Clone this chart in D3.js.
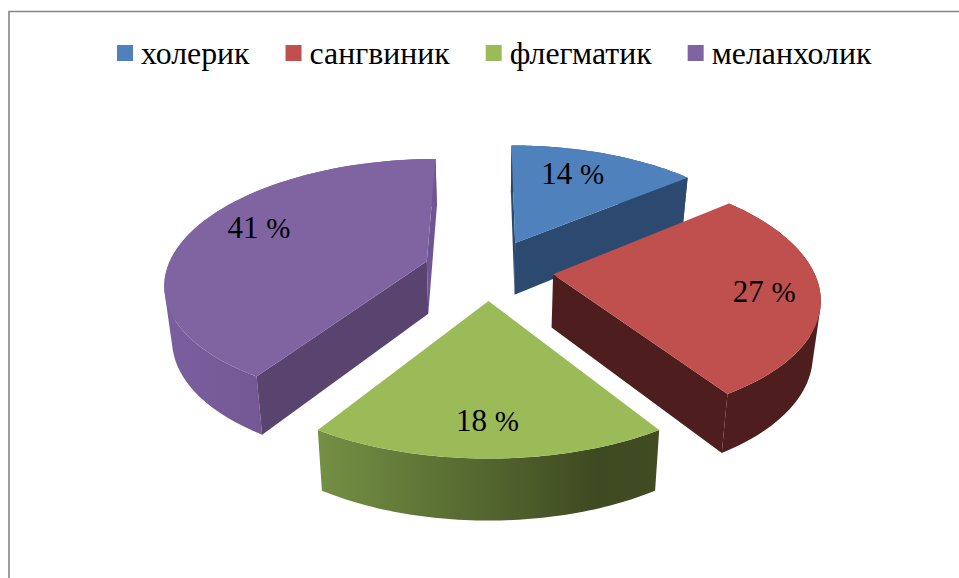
<!DOCTYPE html>
<html><head><meta charset="utf-8">
<style>html,body{margin:0;padding:0;background:#fff}svg{display:block}text{font-family:"Liberation Serif",serif;fill:#000}</style>
<script src="https://cdn.jsdelivr.net/npm/d3@7/dist/d3.min.js"></script>
</head><body>
<script>
const categories = ["холерик", "сангвиник", "флегматик", "меланхолик"];
const values = [14, 27, 18, 41];
const topColors = ["#4f81bd", "#c0504d", "#9bbb59", "#8064a2"];
const wallColors = ["#2c4a6f", "#4e1e1e", "#3f4a22", "#59436f"];
const sliverColors = ["#2c4a6f", "#4e1e1e", "#3f4a22", "#705595"];
const outerStops = [
  [["0", "#2c4a6f"], ["1", "#2c4a6f"]],
  [["0", "#4e1e1e"], ["1", "#4e1e1e"]],
  [["0", "#749044"], ["0.82", "#3e4a21"], ["1", "#414c23"]],
  [["0", "#7b5e9e"], ["1", "#674d85"]]
];
const labelNudge = [[-12, 0], [12, 3], [-1, 7], [9, -9]];

const W = 959, H = 578;
const vx = 488.5, vy = 269.5, A = 260, B = 121, p = 0.16, px = 0.168, explode = 0.25, labelR = 0.75;
const svg = d3.select("body").append("svg").attr("width", W).attr("height", H);
const defs = svg.append("defs");

// border
svg.append("path").attr("d", d3.line()([[9, H], [9, 11.5], [W, 11.5]]))
  .attr("fill", "none").attr("stroke", "#868686").attr("stroke-width", 1.6);

const pie = d3.pie().sort(null).value(d => d);
const arcs = pie(values);
const fmt = d3.line();

function ground(a, mid, r) {
  return [explode * Math.sin(mid) + r * Math.sin(a), explode * Math.cos(mid) + r * Math.cos(a)];
}
function top3(a, mid, r) {
  const [X, Z] = ground(a, mid, r), w = 1 + p * Z;
  return [vx + A * X / (1 + px * Z), vy - B * Z / w];
}
function bot3(a, mid, r) {
  const [X, Z] = ground(a, mid, r), w = 1 + p * Z;
  return [vx + 0.976 * A * X / (1 + px * Z), vy - B * Z / w + 53 * Math.pow(w, -0.7)];
}
// shoelace area with screen y running down: positive means clockwise on screen
function area(q) { return -d3.polygonArea(q); }

const order = [0, 3, 1, 2];
order.forEach(i => {
  const d = arcs[i], mid = (d.startAngle + d.endAngle) / 2;
  const ts = d3.range(0, 61).map(k => d.startAngle + (d.endAngle - d.startAngle) * k / 60);
  const tArc = ts.map(a => top3(a, mid, 1));
  const bArc = ts.map(a => bot3(a, mid, 1));
  const g = svg.append("g");

  const xs = tArc.map(q => q[0]);
  const gid = "outer" + i;
  const lg = defs.append("linearGradient").attr("id", gid).attr("gradientUnits", "userSpaceOnUse")
    .attr("x1", d3.min(xs)).attr("x2", d3.max(xs)).attr("y1", 0).attr("y2", 0);
  outerStops[i].forEach(s => lg.append("stop").attr("offset", s[0]).attr("stop-color", s[1]));

  // outer wall: one path of consistently wound quads, so folds do not cancel out
  const quads = d3.range(0, 60).map(k => {
    const q = [tArc[k], tArc[k + 1], bArc[k + 1], bArc[k]];
    return fmt(area(q) >= 0 ? q : q.slice().reverse()) + "Z";
  }).join("");
  g.append("path").attr("d", quads).attr("fill", `url(#${gid})`);

  // radial walls (front-facing only)
  const at = top3(0, mid, 0), ab = bot3(0, mid, 0);
  const startQ = [at, tArc[0], bArc[0], ab];
  const endQ = [at, tArc[60], bArc[60], ab];
  if (area(startQ) < 0) g.append("path").attr("d", fmt(startQ) + "Z").attr("fill", wallColors[i]);
  if (area(endQ) > 0) g.append("path").attr("d", fmt(endQ) + "Z").attr("fill", i === 3 ? sliverColors[i] : wallColors[i]);

  // top face
  g.append("path").attr("d", fmt([at].concat(tArc)) + "Z").attr("fill", topColors[i]);
});

// percent labels
arcs.forEach((d, i) => {
  const mid = (d.startAngle + d.endAngle) / 2;
  const q = top3(mid, mid, labelR);
  const t = svg.append("text").attr("x", q[0] + labelNudge[i][0]).attr("y", q[1] + labelNudge[i][1] + 10)
    .attr("text-anchor", "middle").attr("font-size", 31).text(values[i] + " ");
  t.append("tspan").attr("font-size", 29).text("%");
});

// legend
let lx = 117;
categories.forEach((c, i) => {
  svg.append("rect").attr("x", lx).attr("y", 45).attr("width", 16).attr("height", 16).attr("fill", topColors[i]);
  const t = svg.append("text").attr("x", lx + 24).attr("y", 64).attr("font-size", 31.8).text(c);
  lx += 24 + t.node().getComputedTextLength() + 36;
});
</script>
</body></html>
